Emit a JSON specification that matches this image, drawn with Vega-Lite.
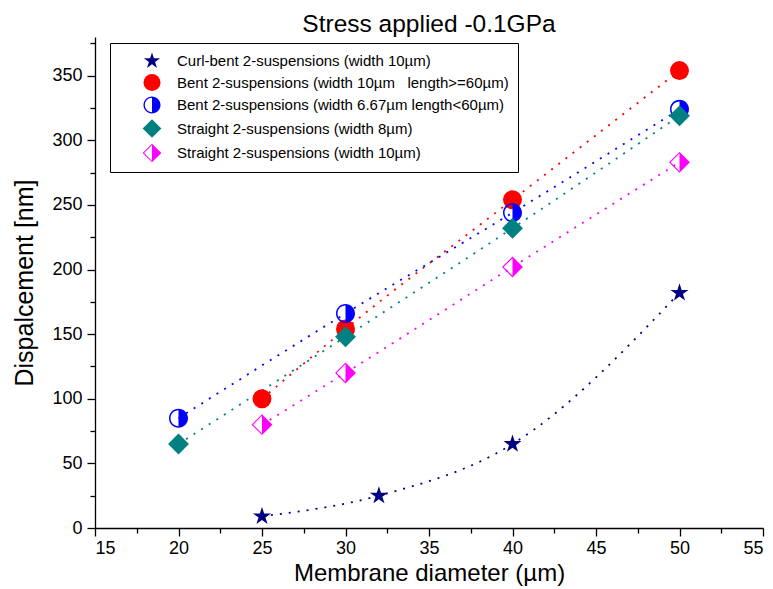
{
  "$schema": "https://vega.github.io/schema/vega-lite/v6.json",
  "width": 668,
  "height": 491,
  "autosize": {"type": "none"},
  "padding": {"left": 95, "top": 37, "right": 10, "bottom": 61},
  "title": {"text": "Stress applied -0.1GPa", "fontSize": 24.5, "font": "Liberation Sans", "fontWeight": "normal", "anchor": "middle", "offset": 0, "color": "black"},
  "config": {
    "view": {"stroke": null},
    "font": "Liberation Sans",
    "axis": {"domainColor": "black", "tickColor": "black", "labelColor": "black", "titleColor": "black", "labelFont": "Liberation Sans", "titleFont": "Liberation Sans", "titleFontWeight": "normal", "grid": false, "domainWidth": 1.3, "tickWidth": 1.3}
  },
  "data": {
    "values": [
      {"s": "Curl-bent 2-suspensions (width 10µm)", "d": 25, "v": 9},
      {"s": "Curl-bent 2-suspensions (width 10µm)", "d": 32, "v": 25},
      {"s": "Curl-bent 2-suspensions (width 10µm)", "d": 40, "v": 65},
      {"s": "Curl-bent 2-suspensions (width 10µm)", "d": 50, "v": 182},
      {"s": "Bent 2-suspensions (width 10µm\u00a0\u00a0\u00a0length>=60µm)", "d": 25, "v": 100},
      {"s": "Bent 2-suspensions (width 10µm\u00a0\u00a0\u00a0length>=60µm)", "d": 30, "v": 154},
      {"s": "Bent 2-suspensions (width 10µm\u00a0\u00a0\u00a0length>=60µm)", "d": 40, "v": 254},
      {"s": "Bent 2-suspensions (width 10µm\u00a0\u00a0\u00a0length>=60µm)", "d": 50, "v": 354},
      {"s": "Bent 2-suspensions (width 6.67µm length<60µm)", "d": 20, "v": 85},
      {"s": "Bent 2-suspensions (width 6.67µm length<60µm)", "d": 30, "v": 166},
      {"s": "Bent 2-suspensions (width 6.67µm length<60µm)", "d": 40, "v": 244},
      {"s": "Bent 2-suspensions (width 6.67µm length<60µm)", "d": 50, "v": 324},
      {"s": "Straight 2-suspensions (width 8µm)", "d": 20, "v": 65},
      {"s": "Straight 2-suspensions (width 8µm)", "d": 30, "v": 148},
      {"s": "Straight 2-suspensions (width 8µm)", "d": 40, "v": 232},
      {"s": "Straight 2-suspensions (width 8µm)", "d": 50, "v": 319},
      {"s": "Straight 2-suspensions (width 10µm)", "d": 25, "v": 80},
      {"s": "Straight 2-suspensions (width 10µm)", "d": 30, "v": 120},
      {"s": "Straight 2-suspensions (width 10µm)", "d": 40, "v": 202},
      {"s": "Straight 2-suspensions (width 10µm)", "d": 50, "v": 283}
    ]
  },
  "layer": [
    {
      "mark": {"type": "line", "interpolate": "monotone", "strokeDash": [2, 7], "strokeWidth": 1.8},
      "encoding": {
        "x": {"field": "d", "type": "quantitative", "scale": {"domain": [15, 55], "nice": false, "zero": false},
              "axis": {"orient": "bottom", "values": [15, 20, 25, 30, 35, 40, 45, 50, 55], "tickSize": 8, "labelFontSize": 18, "labelPadding": 3, "title": "Membrane diameter (µm)", "titleFontSize": 24, "titlePadding": 4}},
        "y": {"field": "v", "type": "quantitative", "scale": {"domain": [0, 380], "nice": false},
              "axis": {"orient": "left", "values": [0, 50, 100, 150, 200, 250, 300, 350], "tickSize": 8, "labelFontSize": 18, "labelPadding": 5, "title": "Dispalcement [nm]", "titleFontSize": 25, "titlePadding": 14}},
        "color": {"field": "s", "type": "nominal",
                  "scale": {"domain": ["Curl-bent 2-suspensions (width 10µm)", "Bent 2-suspensions (width 10µm\u00a0\u00a0\u00a0length>=60µm)", "Bent 2-suspensions (width 6.67µm length<60µm)", "Straight 2-suspensions (width 8µm)", "Straight 2-suspensions (width 10µm)"],
                            "range": ["#000080", "#ff0000", "#0000ff", "#008080", "#ff00ff"]},
                  "legend": {"title": null, "orient": "none", "legendX": 15, "legendY": 6, "strokeColor": "black", "fillColor": "white", "padding": 9, "labelFontSize": 15, "labelColor": "black", "labelFont": "Liberation Sans", "symbolSize": 290, "symbolOffset": 24, "rowPadding": 4.5, "labelOffset": 16, "symbolStrokeWidth": 0, "labelLimit": 500}}
      }
    },
    {
      "mark": {"type": "point", "filled": true, "opacity": 1, "size": 360, "strokeWidth": 0},
      "encoding": {
        "x": {"field": "d", "type": "quantitative", "scale": {"domain": [15, 55], "nice": false, "zero": false},
              "axis": {"orient": "bottom", "values": [17.5, 22.5, 27.5, 32.5, 37.5, 42.5, 47.5, 52.5], "tickSize": 5, "labels": false, "domain": false, "title": null}},
        "y": {"field": "v", "type": "quantitative", "scale": {"domain": [0, 380], "nice": false},
              "axis": {"orient": "left", "values": [25, 75, 125, 175, 225, 275, 325, 375], "tickSize": 5, "labels": false, "domain": false, "title": null}},
        "color": {"field": "s", "type": "nominal",
                  "scale": {"domain": ["Curl-bent 2-suspensions (width 10µm)", "Bent 2-suspensions (width 10µm\u00a0\u00a0\u00a0length>=60µm)", "Bent 2-suspensions (width 6.67µm length<60µm)", "Straight 2-suspensions (width 8µm)", "Straight 2-suspensions (width 10µm)"],
                            "range": ["#000080", "#ff0000", "#0000ff", "#008080", "#ff00ff"]},
                  "legend": {"title": null, "orient": "none", "legendX": 15, "legendY": 6, "strokeColor": "black", "fillColor": "white", "padding": 9, "labelFontSize": 15, "labelColor": "black", "labelFont": "Liberation Sans", "symbolSize": 290, "symbolOffset": 24, "rowPadding": 4.5, "labelOffset": 16, "symbolStrokeWidth": 0, "labelLimit": 500}},
        "shape": {"field": "s", "type": "nominal",
                  "scale": {"domain": ["Curl-bent 2-suspensions (width 10µm)", "Bent 2-suspensions (width 10µm\u00a0\u00a0\u00a0length>=60µm)", "Bent 2-suspensions (width 6.67µm length<60µm)", "Straight 2-suspensions (width 8µm)", "Straight 2-suspensions (width 10µm)"],
                            "range": [
                              "M0,-1L0.2245,-0.309L0.9511,-0.309L0.3633,0.118L0.5878,0.809L0,0.382L-0.5878,0.809L-0.3633,0.118L-0.9511,-0.309L-0.2245,-0.309Z",
                              "circle",
                              "M-1,0A1,1 0 1,1 1,0A1,1 0 1,1 -1,0ZM-0.84,0A0.84,0.84 0 1,0 0.84,0A0.84,0.84 0 1,0 -0.84,0ZM0,-0.84A0.84,0.84 0 0,1 0,0.84Z",
                              "M0,-1.1L1.1,0L0,1.1L-1.1,0Z",
                              "M0,-1.1L1.1,0L0,1.1L-1.1,0ZM0,-0.93L-0.93,0L0,0.93L0.93,0ZM0,-0.93L0.93,0L0,0.93Z"
                            ]},
                  "legend": {"title": null, "orient": "none", "legendX": 15, "legendY": 6, "strokeColor": "black", "fillColor": "white", "padding": 9, "labelFontSize": 15, "labelColor": "black", "labelFont": "Liberation Sans", "symbolSize": 290, "symbolOffset": 24, "rowPadding": 4.5, "labelOffset": 16, "symbolStrokeWidth": 0, "labelLimit": 500}}
      }
    }
  ],
  "resolve": {"axis": {"x": "independent", "y": "independent"}}
}
